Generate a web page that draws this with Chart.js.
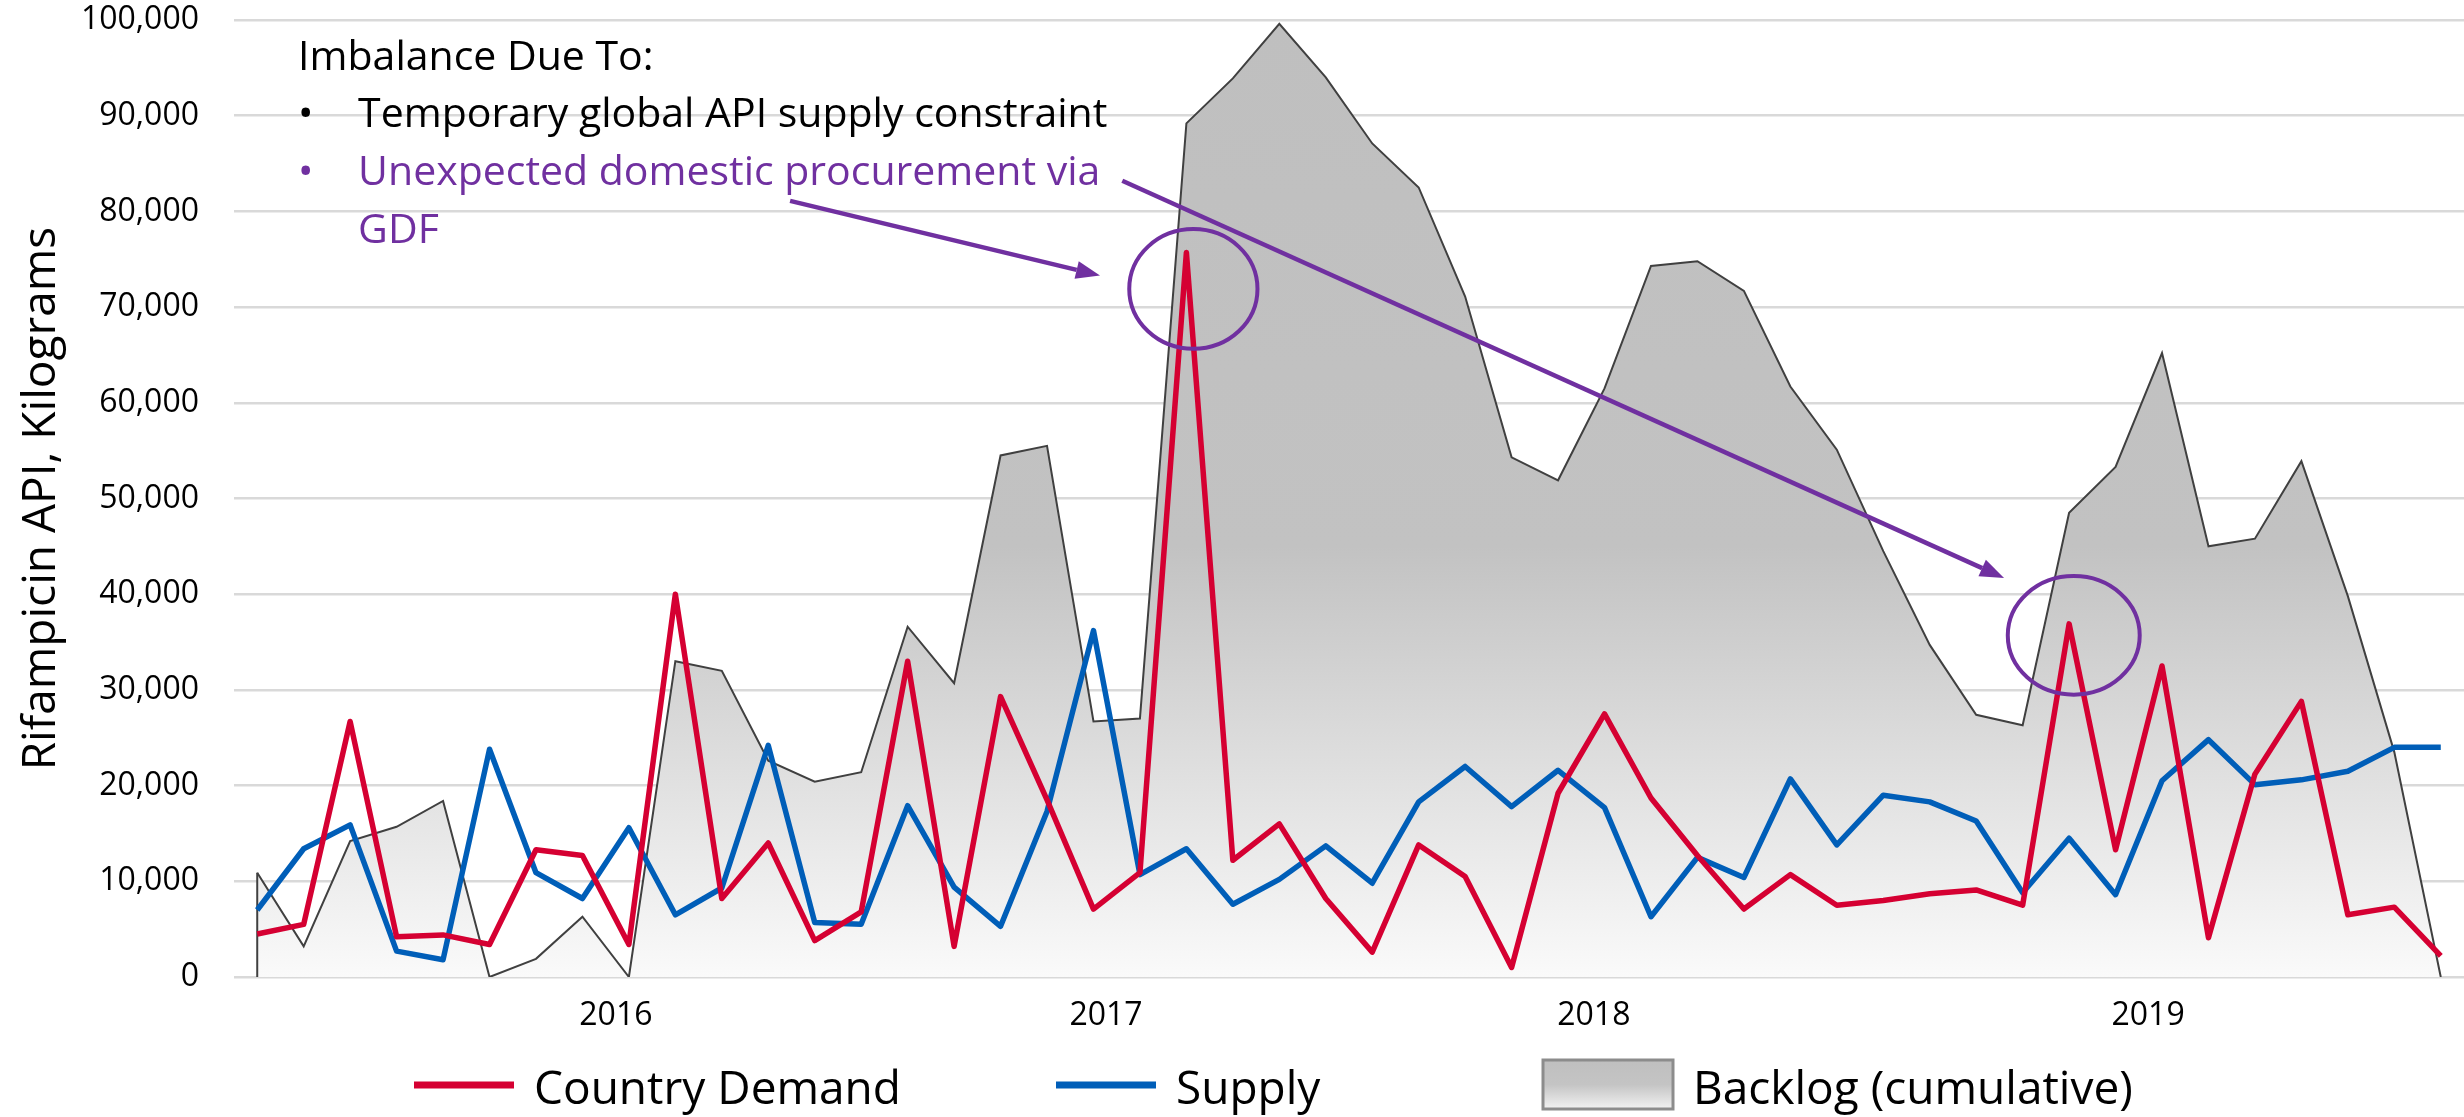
<!DOCTYPE html>
<html>
<head>
<meta charset="utf-8">
<script src="https://cdn.jsdelivr.net/npm/chart.js@4.4.1/dist/chart.umd.min.js"></script>
<style>
  html, body { margin: 0; padding: 0; background: #ffffff; }
  #wrap { width: 2464px; height: 1117px; }
</style>
</head>
<body>
<div id="wrap"><canvas id="rifChart" width="2464" height="1117"></canvas></div>
<script>
// ============================================================
// Rifampicin API — country demand vs supply vs cumulative backlog
// ============================================================

// Values in kilograms, one entry per period
const countryDemand = [
  4500, 5500, 26700, 4200, 4400, 3400, 13300, 12700, 3400, 40000, 8200, 14000,
  3800, 6800, 33000, 3200, 29300, 18500, 7100, 10900, 75700, 12200, 16000, 8200,
  2600, 13800, 10500, 1000, 19200, 27500, 18700, 12700, 7100, 10700, 7500, 8000,
  8700, 9100, 7500, 36900, 13300, 32500, 4100, 21200, 28800, 6500, 7300, 2200
];
const supply = [
  7000, 13400, 15900, 2700, 1800, 23800, 10900, 8200, 15600, 6500, 9300, 24200,
  5700, 5500, 17900, 9400, 5300, 17300, 36200, 10700, 13400, 7600, 10200, 13700,
  9800, 18300, 22000, 17800, 21600, 17700, 6300, 12500, 10400, 20700, 13800, 19000,
  18300, 16300, 8800, 14500, 8600, 20500, 24800, 20100, 20600, 21500, 24000, 24000
];
const backlog = [
  10900, 3200, 14200, 15700, 18400, 0, 1900, 6300, 0, 33000, 32000, 22600,
  20400, 21400, 36600, 30700, 54500, 55500, 26700, 27000, 89200, 93900, 99600, 94000,
  87100, 82500, 71100, 54300, 51900, 61500, 74300, 74800, 71700, 61700, 55100, 44500,
  34700, 27400, 26300, 48500, 53300, 65200, 45000, 45800, 53900, 39800, 23500, 0
];

// Year labels sit between periods on the source axis
const yearTicks = [7.72, 18.27, 28.77, 40.7];
const yearLabels = ['2016', '2017', '2018', '2019'];

const yTicks = { min: 0, max: 100000, step: 10000 };

// ---- annotation (positions in data units: period index / kg) ----
const noteLines = [
  { text: 'Imbalance Due To:', bullet: false, indent: false, purple: false },
  { text: 'Temporary global API supply constraint', bullet: true, indent: true, purple: false },
  { text: 'Unexpected domestic procurement via', bullet: true, indent: true, purple: true },
  { text: 'GDF', bullet: false, indent: true, purple: true },
];
const noteAnchor = { x: 0.88, y: 94800 };
const noteArrows = [
  { from: [11.47, 81100], to: [18.14, 73300] },
  { from: [18.62, 83200], to: [37.6, 41700] },
];
const noteCircles = [
  { x: 20.15, y: 71900, rx: 1.38, ry: 6250 },
  { x: 39.1, y: 35700, rx: 1.42, ry: 6200 },
];

const COLORS = {
  demand: '#D50032',
  supply: '#005EB8',
  backlogEdge: '#404040',
  grid: '#D9D9D9',
  purple: '#7030A0',
  text: '#000000',
};
const FONT = "'Open Sans', sans-serif";

function backlogGradient(ctx, area) {
  const g = ctx.createLinearGradient(0, area.top, 0, area.bottom);
  g.addColorStop(0, '#BFBFBF');
  g.addColorStop(0.55, '#C2C2C2');
  g.addColorStop(1, '#FAFAFA');
  return g;
}

function drawArrow(ctx, x1, y1, x2, y2) {
  const ang = Math.atan2(y2 - y1, x2 - x1);
  const head = 24, half = 9;
  const bx = x2 - head * Math.cos(ang), by = y2 - head * Math.sin(ang);
  ctx.beginPath();
  ctx.moveTo(x1, y1);
  ctx.lineTo(bx, by);
  ctx.stroke();
  ctx.beginPath();
  ctx.moveTo(x2, y2);
  ctx.lineTo(bx + half * Math.sin(ang), by - half * Math.cos(ang));
  ctx.lineTo(bx - half * Math.sin(ang), by + half * Math.cos(ang));
  ctx.closePath();
  ctx.fill();
}

const notesPlugin = {
  id: 'imbalanceNotes',
  afterDatasetDraw(chart, args) {
    // Excel closes the area shape on its left edge
    if (chart.data.datasets[args.index].label !== 'Backlog (cumulative)') return;
    const { ctx, scales: { x, y } } = chart;
    ctx.save();
    ctx.strokeStyle = COLORS.backlogEdge;
    ctx.lineWidth = 2;
    ctx.beginPath();
    ctx.moveTo(x.getPixelForValue(0), y.getPixelForValue(0));
    ctx.lineTo(x.getPixelForValue(0), y.getPixelForValue(backlog[0]));
    ctx.stroke();
    ctx.restore();
  },
  afterDraw(chart) {
    const { ctx, chartArea, scales: { x, y } } = chart;
    ctx.save();

    // y axis title
    ctx.save();
    ctx.translate(55, (chartArea.top + chartArea.bottom) / 2);
    ctx.rotate(-Math.PI / 2);
    ctx.font = `46px ${FONT}`;
    ctx.fillStyle = COLORS.text;
    ctx.textAlign = 'center';
    ctx.textBaseline = 'alphabetic';
    ctx.fillText('Rifampicin API, Kilograms', 0, 0);
    ctx.restore();

    // note text
    const nx = x.getPixelForValue(noteAnchor.x);
    let ny = y.getPixelForValue(noteAnchor.y);
    ctx.font = `41px ${FONT}`;
    ctx.textBaseline = 'alphabetic';
    ctx.textAlign = 'left';
    noteLines.forEach(line => {
      ctx.fillStyle = line.purple ? COLORS.purple : COLORS.text;
      if (line.bullet) ctx.fillText('\u2022', nx, ny);
      ctx.fillText(line.text, nx + (line.indent ? 60 : 0), ny);
      ny += 57.7;
    });

    // arrows + circles
    ctx.strokeStyle = COLORS.purple;
    ctx.fillStyle = COLORS.purple;
    ctx.lineWidth = 4.5;
    ctx.lineCap = 'butt';
    noteArrows.forEach(a => {
      drawArrow(ctx,
        x.getPixelForValue(a.from[0]), y.getPixelForValue(a.from[1]),
        x.getPixelForValue(a.to[0]), y.getPixelForValue(a.to[1]));
    });
    ctx.lineWidth = 4;
    noteCircles.forEach(c => {
      const cx = x.getPixelForValue(c.x), cy = y.getPixelForValue(c.y);
      const rx = Math.abs(x.getPixelForValue(c.x + c.rx) - cx);
      const ry = Math.abs(y.getPixelForValue(c.y + c.ry) - cy);
      ctx.beginPath();
      ctx.ellipse(cx, cy, rx, ry, 0, 0, Math.PI * 2);
      ctx.stroke();
    });

    // legend (drawn by hand: Excel spaces the entries unevenly)
    const ly = 1085, base = 1104;
    ctx.font = `46px ${FONT}`;
    ctx.fillStyle = COLORS.text;
    ctx.lineWidth = 7;
    ctx.strokeStyle = COLORS.demand;
    ctx.beginPath(); ctx.moveTo(414, ly); ctx.lineTo(514, ly); ctx.stroke();
    ctx.fillText(chart.data.datasets[0].label, 534, base);
    ctx.strokeStyle = COLORS.supply;
    ctx.beginPath(); ctx.moveTo(1056, ly); ctx.lineTo(1156, ly); ctx.stroke();
    ctx.fillText(chart.data.datasets[1].label, 1176, base);
    const box = { x: 1543, y: 1060, w: 130, h: 49 };
    const g = ctx.createLinearGradient(0, box.y, 0, box.y + box.h);
    g.addColorStop(0, '#BFBFBF');
    g.addColorStop(0.5, '#C4C4C4');
    g.addColorStop(1, '#F2F2F2');
    ctx.fillStyle = g;
    ctx.fillRect(box.x, box.y, box.w, box.h);
    ctx.strokeStyle = '#8C8C8C';
    ctx.lineWidth = 3;
    ctx.strokeRect(box.x, box.y, box.w, box.h);
    ctx.fillStyle = COLORS.text;
    ctx.fillText(chart.data.datasets[2].label, 1693, base);

    ctx.restore();
  }
};

const toPoints = arr => arr.map((v, i) => ({ x: i, y: v }));

const ctxEl = document.getElementById('rifChart');
new Chart(ctxEl, {
  type: 'line',
  data: {
    datasets: [
      {
        label: 'Country Demand', data: toPoints(countryDemand),
        borderColor: COLORS.demand, borderWidth: 5.5, pointRadius: 0,
        borderJoinStyle: 'round', tension: 0, fill: false, order: 0,
      },
      {
        label: 'Supply', data: toPoints(supply),
        borderColor: COLORS.supply, borderWidth: 5.5, pointRadius: 0,
        borderJoinStyle: 'round', tension: 0, fill: false, order: 1,
      },
      {
        label: 'Backlog (cumulative)', data: toPoints(backlog),
        borderColor: COLORS.backlogEdge, borderWidth: 2, pointRadius: 0,
        tension: 0, fill: 'origin', order: 2,
        backgroundColor: (c) => {
          const { ctx, chartArea } = c.chart;
          if (!chartArea) return '#BFBFBF';
          return backlogGradient(ctx, chartArea);
        },
      },
    ],
  },
  options: {
    responsive: false,
    animation: false,
    layout: { padding: { top: 0, right: 0, bottom: 0, left: 0 } },
    plugins: { legend: { display: false }, tooltip: { enabled: false } },
    scales: {
      x: {
        type: 'linear', min: -0.5, max: countryDemand.length - 0.5,
        grid: { display: false },
        border: { display: false },
        afterBuildTicks(scale) { scale.ticks = yearTicks.map(v => ({ value: v })); },
        afterFit(scale) { scale.height = 140; },
        ticks: {
          autoSkip: false, maxRotation: 0, padding: 12,
          color: COLORS.text, font: { family: FONT, size: 32 },
          callback: (v, i) => yearLabels[i],
        },
      },
      y: {
        min: yTicks.min, max: yTicks.max,
        grid: { color: COLORS.grid, lineWidth: 2.5, drawTicks: false },
        border: { display: false },
        afterFit(scale) {
          scale.width = 234;
          // keep the top gridline close to the canvas edge
          scale.paddingTop = 20;
          scale.paddingBottom = 0;
        },
        ticks: {
          stepSize: yTicks.step, padding: 35,
          color: COLORS.text, font: { family: FONT, size: 32 },
        },
      },
    },
  },
  plugins: [notesPlugin],
});
</script>
</body>
</html>
